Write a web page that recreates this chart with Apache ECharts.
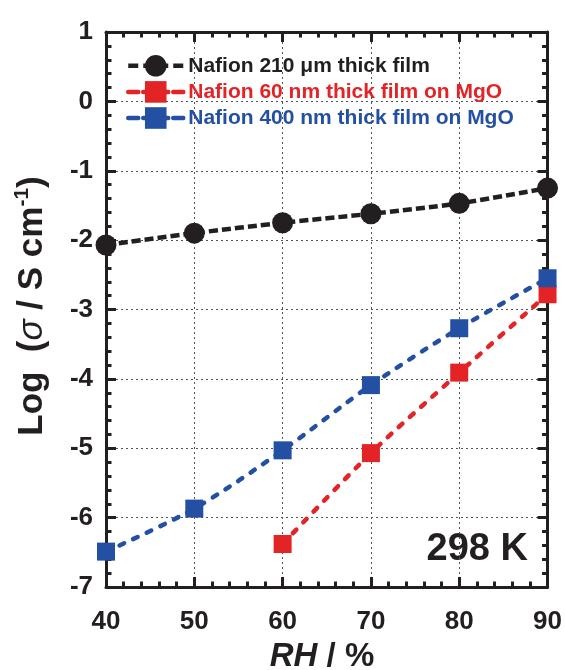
<!DOCTYPE html>
<html>
<head>
<meta charset="utf-8">
<script src="https://cdn.jsdelivr.net/npm/echarts@6/dist/echarts.min.js"></script>
<style>
html,body{margin:0;padding:0;background:#fff;}
#chart{width:565px;height:670px;}
</style>
</head>
<body>
<div id="chart"></div>
<script>
// ---- data ----
const rh = [40, 50, 60, 70, 80, 90];
const rhThin60 = [60, 70, 80, 90];
const nafion210um = [-2.07, -1.90, -1.75, -1.62, -1.47, -1.25];
const nafion60nm = [-6.38, -5.07, -3.91, -2.78];
const nafion400nm = [-6.49, -5.87, -5.03, -4.09, -3.27, -2.55];
const xTicks = [40, 50, 60, 70, 80, 90];
const yTicks = [1, 0, -1, -2, -3, -4, -5, -6, -7];
const names = ['Nafion 210 \u03bcm thick film', 'Nafion 60 nm thick film on MgO', 'Nafion 400 nm thick film on MgO'];

const FONT = '"Liberation Sans", Arial, Helvetica, sans-serif';
const BLACK = '#231f20', RED = '#e32326', BLUE = '#2350a2';

const pairs = (xs, ys) => xs.map((x, i) => [x, ys[i]]);

const chart = echarts.init(document.getElementById('chart'));

const axisCommon = {
  type: 'value',
  axisLine: { show: true, onZero: false, lineStyle: { color: BLACK, width: 3 } },
  axisTick: { show: true, inside: true, length: 10, lineStyle: { color: BLACK, width: 3 } },
  minorTick: { show: true, splitNumber: 5, length: 5.5, lineStyle: { color: BLACK, width: 3 } }
};
const grid = { show: true, lineStyle: { color: '#555', width: 1, type: [2, 3] } };

const blackLine = { color: BLACK, width: 4.5, type: [9, 4] };
const redLine = { color: RED, width: 4.5, type: [5, 10], cap: 'round' };
const blueLine = { color: BLUE, width: 4.5, type: [5, 10], cap: 'round' };

chart.setOption({
  animation: false,
  backgroundColor: '#fff',
  grid: { left: 106, right: 16, top: 32, bottom: 83, containLabel: false },
  legend: {
    left: 121, top: 50, orient: 'vertical',
    itemWidth: 55, itemHeight: 27, itemGap: 4.5,
    selectedMode: false,
    data: [
      { name: names[0], textStyle: { color: BLACK }, lineStyle: { width: 4.5, type: [10, 5] } },
      { name: names[1], textStyle: { color: RED }, lineStyle: { width: 4.5, type: [10, 5] } },
      { name: names[2], textStyle: { color: BLUE }, lineStyle: { width: 4.5, type: [10, 5] } }
    ],
    textStyle: { fontFamily: FONT, fontWeight: 'bold', fontSize: 21 }
  },
  xAxis: [
    Object.assign({}, axisCommon, {
      min: xTicks[0], max: xTicks[xTicks.length - 1], interval: 10,
      splitLine: grid,
      axisLabel: { margin: 22, color: BLACK, fontFamily: FONT, fontWeight: 'bold', fontSize: 26 }
    }),
    Object.assign({}, axisCommon, {
      position: 'top', min: xTicks[0], max: xTicks[xTicks.length - 1], interval: 10,
      splitLine: { show: false }, axisLabel: { show: false }
    })
  ],
  yAxis: [
    Object.assign({}, axisCommon, {
      min: yTicks[yTicks.length - 1], max: yTicks[0], interval: 1,
      splitLine: grid,
      axisLabel: { margin: 13, padding: [0, 0, 9, 0], color: BLACK, fontFamily: FONT, fontWeight: 'bold', fontSize: 26 }
    }),
    Object.assign({}, axisCommon, {
      position: 'right', min: yTicks[yTicks.length - 1], max: yTicks[0], interval: 1,
      splitLine: { show: false }, axisLabel: { show: false }
    })
  ],
  series: [
    {
      name: names[0], type: 'line', data: pairs(rh, nafion210um),
      symbol: 'circle', symbolSize: 21, clip: false, smooth: 0.3,
      itemStyle: { color: BLACK },
      lineStyle: blackLine
    },
    {
      name: names[1], type: 'line', data: pairs(rhThin60, nafion60nm),
      symbol: 'rect', symbolSize: 18, clip: false, smooth: 0.3,
      itemStyle: { color: RED },
      lineStyle: redLine
    },
    {
      name: names[2], type: 'line', data: pairs(rh, nafion400nm),
      symbol: 'rect', symbolSize: 18, clip: false, smooth: 0.3,
      itemStyle: { color: BLUE },
      lineStyle: blueLine
    }
  ],
  graphic: [
    {
      type: 'text', x: 528, y: 550,
      style: { text: '298 K', align: 'right', verticalAlign: 'middle', fill: BLACK,
        font: 'bold 38px ' + FONT }
    },
    {
      type: 'text', x: 322, y: 657,
      style: {
        text: '{i|RH}{n| / %}', align: 'center', verticalAlign: 'middle',
        rich: {
          i: { fontFamily: FONT, fontWeight: 'bold', fontStyle: 'italic', fontSize: 33, fill: BLACK },
          n: { fontFamily: FONT, fontWeight: 'bold', fontSize: 33, fill: BLACK }
        }
      }
    },
    {
      type: 'text', x: 32, y: 306, rotation: Math.PI / 2,
      style: {
        text: '{n|Log  (}{i|\u03c3}{n| / S cm}{s|-1}{n|)}', align: 'center', verticalAlign: 'middle',
        rich: {
          n: { fontFamily: FONT, fontWeight: 'bold', fontSize: 35, fill: BLACK, lineHeight: 40 },
          i: { fontFamily: FONT, fontStyle: 'italic', fontSize: 35, fill: BLACK, lineHeight: 40 },
          s: { fontFamily: FONT, fontWeight: 'bold', fontSize: 21, fill: BLACK, verticalAlign: 'top', lineHeight: 40 }
        }
      }
    }
  ]
});
</script>
</body>
</html>
